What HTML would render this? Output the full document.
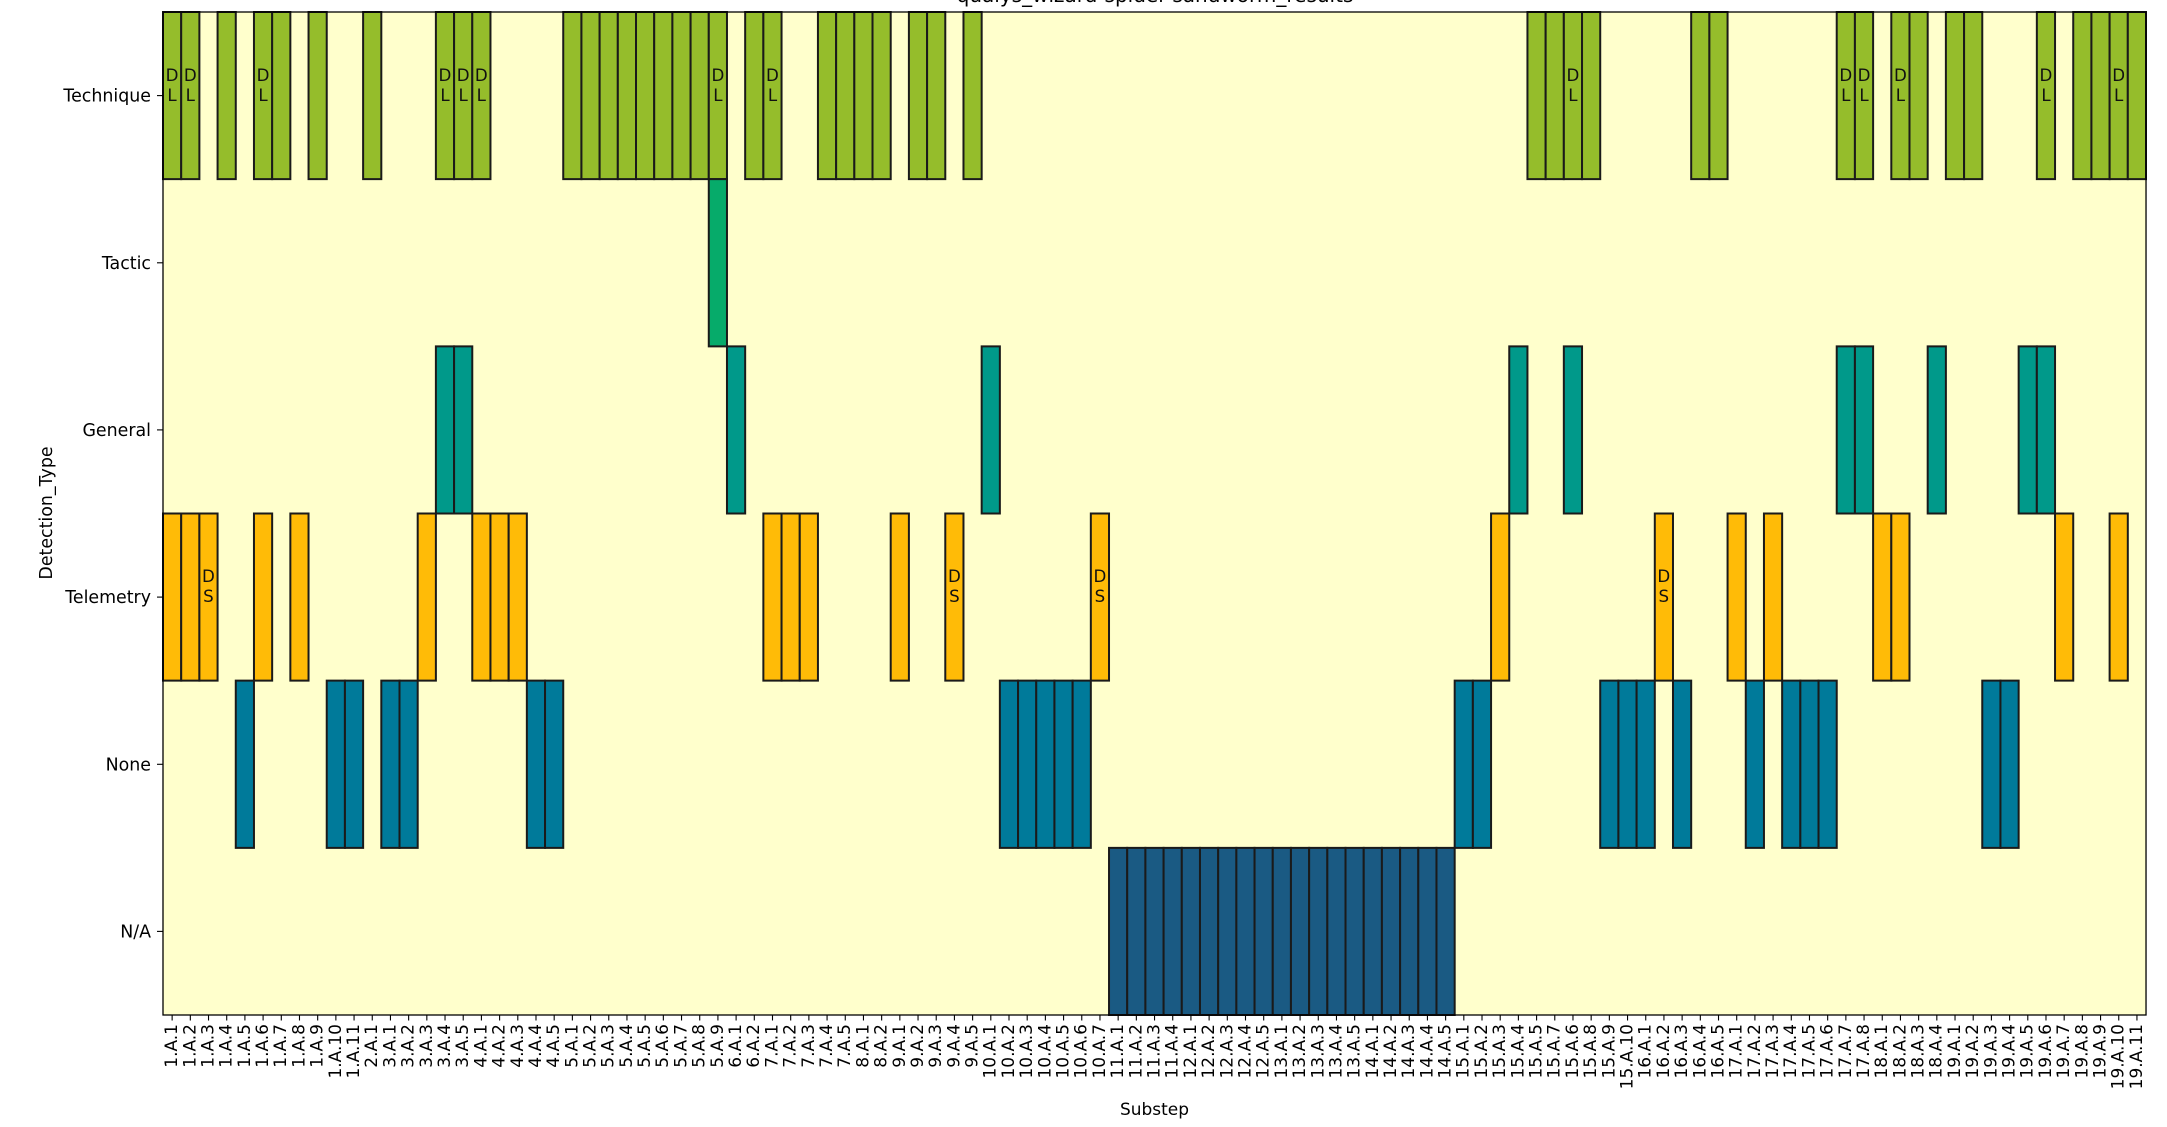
<!DOCTYPE html>
<html><head><meta charset="utf-8"><style>
html,body{margin:0;padding:0;background:#fff;}
svg{display:block;font-family:"DejaVu Sans","Liberation Sans",sans-serif;}
</style></head><body>
<svg width="2167" height="1127" viewBox="0 0 2167 1127" xmlns="http://www.w3.org/2000/svg">
<rect x="0" y="0" width="2167" height="1127" fill="#fff"/>
<text x="1155" y="2" font-size="20" text-anchor="middle" fill="#000">qualys_wizard-spider-sandworm_results</text>
<g transform="translate(163 0) scale(0.9985 1) translate(-163 0)">
<rect x="163" y="12" width="1986" height="1003" fill="#ffffcc"/>
<g transform="translate(163,12) scale(18.22,167.17)" stroke="#1a1a1a" stroke-width="2">
<g fill="#95bd2b">
<rect vector-effect="non-scaling-stroke" x="0" y="0" width="1" height="1"/>
<rect vector-effect="non-scaling-stroke" x="1" y="0" width="1" height="1"/>
<rect vector-effect="non-scaling-stroke" x="3" y="0" width="1" height="1"/>
<rect vector-effect="non-scaling-stroke" x="5" y="0" width="1" height="1"/>
<rect vector-effect="non-scaling-stroke" x="6" y="0" width="1" height="1"/>
<rect vector-effect="non-scaling-stroke" x="8" y="0" width="1" height="1"/>
<rect vector-effect="non-scaling-stroke" x="11" y="0" width="1" height="1"/>
<rect vector-effect="non-scaling-stroke" x="15" y="0" width="1" height="1"/>
<rect vector-effect="non-scaling-stroke" x="16" y="0" width="1" height="1"/>
<rect vector-effect="non-scaling-stroke" x="17" y="0" width="1" height="1"/>
<rect vector-effect="non-scaling-stroke" x="22" y="0" width="1" height="1"/>
<rect vector-effect="non-scaling-stroke" x="23" y="0" width="1" height="1"/>
<rect vector-effect="non-scaling-stroke" x="24" y="0" width="1" height="1"/>
<rect vector-effect="non-scaling-stroke" x="25" y="0" width="1" height="1"/>
<rect vector-effect="non-scaling-stroke" x="26" y="0" width="1" height="1"/>
<rect vector-effect="non-scaling-stroke" x="27" y="0" width="1" height="1"/>
<rect vector-effect="non-scaling-stroke" x="28" y="0" width="1" height="1"/>
<rect vector-effect="non-scaling-stroke" x="29" y="0" width="1" height="1"/>
<rect vector-effect="non-scaling-stroke" x="30" y="0" width="1" height="1"/>
<rect vector-effect="non-scaling-stroke" x="32" y="0" width="1" height="1"/>
<rect vector-effect="non-scaling-stroke" x="33" y="0" width="1" height="1"/>
<rect vector-effect="non-scaling-stroke" x="36" y="0" width="1" height="1"/>
<rect vector-effect="non-scaling-stroke" x="37" y="0" width="1" height="1"/>
<rect vector-effect="non-scaling-stroke" x="38" y="0" width="1" height="1"/>
<rect vector-effect="non-scaling-stroke" x="39" y="0" width="1" height="1"/>
<rect vector-effect="non-scaling-stroke" x="41" y="0" width="1" height="1"/>
<rect vector-effect="non-scaling-stroke" x="42" y="0" width="1" height="1"/>
<rect vector-effect="non-scaling-stroke" x="44" y="0" width="1" height="1"/>
<rect vector-effect="non-scaling-stroke" x="75" y="0" width="1" height="1"/>
<rect vector-effect="non-scaling-stroke" x="76" y="0" width="1" height="1"/>
<rect vector-effect="non-scaling-stroke" x="77" y="0" width="1" height="1"/>
<rect vector-effect="non-scaling-stroke" x="78" y="0" width="1" height="1"/>
<rect vector-effect="non-scaling-stroke" x="84" y="0" width="1" height="1"/>
<rect vector-effect="non-scaling-stroke" x="85" y="0" width="1" height="1"/>
<rect vector-effect="non-scaling-stroke" x="92" y="0" width="1" height="1"/>
<rect vector-effect="non-scaling-stroke" x="93" y="0" width="1" height="1"/>
<rect vector-effect="non-scaling-stroke" x="95" y="0" width="1" height="1"/>
<rect vector-effect="non-scaling-stroke" x="96" y="0" width="1" height="1"/>
<rect vector-effect="non-scaling-stroke" x="98" y="0" width="1" height="1"/>
<rect vector-effect="non-scaling-stroke" x="99" y="0" width="1" height="1"/>
<rect vector-effect="non-scaling-stroke" x="103" y="0" width="1" height="1"/>
<rect vector-effect="non-scaling-stroke" x="105" y="0" width="1" height="1"/>
<rect vector-effect="non-scaling-stroke" x="106" y="0" width="1" height="1"/>
<rect vector-effect="non-scaling-stroke" x="107" y="0" width="1" height="1"/>
<rect vector-effect="non-scaling-stroke" x="108" y="0" width="1" height="1"/>
</g>
<g fill="#06ab6a">
<rect vector-effect="non-scaling-stroke" x="30" y="1" width="1" height="1"/>
</g>
<g fill="#00998a">
<rect vector-effect="non-scaling-stroke" x="15" y="2" width="1" height="1"/>
<rect vector-effect="non-scaling-stroke" x="16" y="2" width="1" height="1"/>
<rect vector-effect="non-scaling-stroke" x="31" y="2" width="1" height="1"/>
<rect vector-effect="non-scaling-stroke" x="45" y="2" width="1" height="1"/>
<rect vector-effect="non-scaling-stroke" x="74" y="2" width="1" height="1"/>
<rect vector-effect="non-scaling-stroke" x="77" y="2" width="1" height="1"/>
<rect vector-effect="non-scaling-stroke" x="92" y="2" width="1" height="1"/>
<rect vector-effect="non-scaling-stroke" x="93" y="2" width="1" height="1"/>
<rect vector-effect="non-scaling-stroke" x="97" y="2" width="1" height="1"/>
<rect vector-effect="non-scaling-stroke" x="102" y="2" width="1" height="1"/>
<rect vector-effect="non-scaling-stroke" x="103" y="2" width="1" height="1"/>
</g>
<g fill="#ffbb07">
<rect vector-effect="non-scaling-stroke" x="0" y="3" width="1" height="1"/>
<rect vector-effect="non-scaling-stroke" x="1" y="3" width="1" height="1"/>
<rect vector-effect="non-scaling-stroke" x="2" y="3" width="1" height="1"/>
<rect vector-effect="non-scaling-stroke" x="5" y="3" width="1" height="1"/>
<rect vector-effect="non-scaling-stroke" x="7" y="3" width="1" height="1"/>
<rect vector-effect="non-scaling-stroke" x="14" y="3" width="1" height="1"/>
<rect vector-effect="non-scaling-stroke" x="17" y="3" width="1" height="1"/>
<rect vector-effect="non-scaling-stroke" x="18" y="3" width="1" height="1"/>
<rect vector-effect="non-scaling-stroke" x="19" y="3" width="1" height="1"/>
<rect vector-effect="non-scaling-stroke" x="33" y="3" width="1" height="1"/>
<rect vector-effect="non-scaling-stroke" x="34" y="3" width="1" height="1"/>
<rect vector-effect="non-scaling-stroke" x="35" y="3" width="1" height="1"/>
<rect vector-effect="non-scaling-stroke" x="40" y="3" width="1" height="1"/>
<rect vector-effect="non-scaling-stroke" x="43" y="3" width="1" height="1"/>
<rect vector-effect="non-scaling-stroke" x="51" y="3" width="1" height="1"/>
<rect vector-effect="non-scaling-stroke" x="73" y="3" width="1" height="1"/>
<rect vector-effect="non-scaling-stroke" x="82" y="3" width="1" height="1"/>
<rect vector-effect="non-scaling-stroke" x="86" y="3" width="1" height="1"/>
<rect vector-effect="non-scaling-stroke" x="88" y="3" width="1" height="1"/>
<rect vector-effect="non-scaling-stroke" x="94" y="3" width="1" height="1"/>
<rect vector-effect="non-scaling-stroke" x="95" y="3" width="1" height="1"/>
<rect vector-effect="non-scaling-stroke" x="104" y="3" width="1" height="1"/>
<rect vector-effect="non-scaling-stroke" x="107" y="3" width="1" height="1"/>
</g>
<g fill="#007a9a">
<rect vector-effect="non-scaling-stroke" x="4" y="4" width="1" height="1"/>
<rect vector-effect="non-scaling-stroke" x="9" y="4" width="1" height="1"/>
<rect vector-effect="non-scaling-stroke" x="10" y="4" width="1" height="1"/>
<rect vector-effect="non-scaling-stroke" x="12" y="4" width="1" height="1"/>
<rect vector-effect="non-scaling-stroke" x="13" y="4" width="1" height="1"/>
<rect vector-effect="non-scaling-stroke" x="20" y="4" width="1" height="1"/>
<rect vector-effect="non-scaling-stroke" x="21" y="4" width="1" height="1"/>
<rect vector-effect="non-scaling-stroke" x="46" y="4" width="1" height="1"/>
<rect vector-effect="non-scaling-stroke" x="47" y="4" width="1" height="1"/>
<rect vector-effect="non-scaling-stroke" x="48" y="4" width="1" height="1"/>
<rect vector-effect="non-scaling-stroke" x="49" y="4" width="1" height="1"/>
<rect vector-effect="non-scaling-stroke" x="50" y="4" width="1" height="1"/>
<rect vector-effect="non-scaling-stroke" x="71" y="4" width="1" height="1"/>
<rect vector-effect="non-scaling-stroke" x="72" y="4" width="1" height="1"/>
<rect vector-effect="non-scaling-stroke" x="79" y="4" width="1" height="1"/>
<rect vector-effect="non-scaling-stroke" x="80" y="4" width="1" height="1"/>
<rect vector-effect="non-scaling-stroke" x="81" y="4" width="1" height="1"/>
<rect vector-effect="non-scaling-stroke" x="83" y="4" width="1" height="1"/>
<rect vector-effect="non-scaling-stroke" x="87" y="4" width="1" height="1"/>
<rect vector-effect="non-scaling-stroke" x="89" y="4" width="1" height="1"/>
<rect vector-effect="non-scaling-stroke" x="90" y="4" width="1" height="1"/>
<rect vector-effect="non-scaling-stroke" x="91" y="4" width="1" height="1"/>
<rect vector-effect="non-scaling-stroke" x="100" y="4" width="1" height="1"/>
<rect vector-effect="non-scaling-stroke" x="101" y="4" width="1" height="1"/>
</g>
<g fill="#1a5a83">
<rect vector-effect="non-scaling-stroke" x="52" y="5" width="1" height="1"/>
<rect vector-effect="non-scaling-stroke" x="53" y="5" width="1" height="1"/>
<rect vector-effect="non-scaling-stroke" x="54" y="5" width="1" height="1"/>
<rect vector-effect="non-scaling-stroke" x="55" y="5" width="1" height="1"/>
<rect vector-effect="non-scaling-stroke" x="56" y="5" width="1" height="1"/>
<rect vector-effect="non-scaling-stroke" x="57" y="5" width="1" height="1"/>
<rect vector-effect="non-scaling-stroke" x="58" y="5" width="1" height="1"/>
<rect vector-effect="non-scaling-stroke" x="59" y="5" width="1" height="1"/>
<rect vector-effect="non-scaling-stroke" x="60" y="5" width="1" height="1"/>
<rect vector-effect="non-scaling-stroke" x="61" y="5" width="1" height="1"/>
<rect vector-effect="non-scaling-stroke" x="62" y="5" width="1" height="1"/>
<rect vector-effect="non-scaling-stroke" x="63" y="5" width="1" height="1"/>
<rect vector-effect="non-scaling-stroke" x="64" y="5" width="1" height="1"/>
<rect vector-effect="non-scaling-stroke" x="65" y="5" width="1" height="1"/>
<rect vector-effect="non-scaling-stroke" x="66" y="5" width="1" height="1"/>
<rect vector-effect="non-scaling-stroke" x="67" y="5" width="1" height="1"/>
<rect vector-effect="non-scaling-stroke" x="68" y="5" width="1" height="1"/>
<rect vector-effect="non-scaling-stroke" x="69" y="5" width="1" height="1"/>
<rect vector-effect="non-scaling-stroke" x="70" y="5" width="1" height="1"/>
</g>
</g>
<rect x="163" y="12" width="1986" height="1003" fill="none" stroke="#000" stroke-width="1.3"/>
<g font-size="16.7" text-anchor="middle" fill="#111">
<text x="172.1" y="81">D</text><text x="172.1" y="101">L</text>
<text x="190.3" y="81">D</text><text x="190.3" y="101">L</text>
<text x="263.2" y="81">D</text><text x="263.2" y="101">L</text>
<text x="445.4" y="81">D</text><text x="445.4" y="101">L</text>
<text x="463.6" y="81">D</text><text x="463.6" y="101">L</text>
<text x="481.8" y="81">D</text><text x="481.8" y="101">L</text>
<text x="718.7" y="81">D</text><text x="718.7" y="101">L</text>
<text x="773.4" y="81">D</text><text x="773.4" y="101">L</text>
<text x="1575.0" y="81">D</text><text x="1575.0" y="101">L</text>
<text x="1848.3" y="81">D</text><text x="1848.3" y="101">L</text>
<text x="1866.6" y="81">D</text><text x="1866.6" y="101">L</text>
<text x="1903.0" y="81">D</text><text x="1903.0" y="101">L</text>
<text x="2048.8" y="81">D</text><text x="2048.8" y="101">L</text>
<text x="2121.6" y="81">D</text><text x="2121.6" y="101">L</text>
<text x="208.5" y="582">D</text><text x="208.5" y="602">S</text>
<text x="955.6" y="582">D</text><text x="955.6" y="602">S</text>
<text x="1101.3" y="582">D</text><text x="1101.3" y="602">S</text>
<text x="1666.1" y="582">D</text><text x="1666.1" y="602">S</text>
</g>
<line x1="171.6" y1="1017.5" x2="2150" y2="1017.5" stroke="#000" stroke-width="6" stroke-dasharray="1.1 17.12"/>
<text x="1156" y="1115" font-size="17" text-anchor="middle" fill="#000">Substep</text>
<g font-size="17" text-anchor="end" fill="#000">
<text transform="translate(177.1,1024) rotate(-90)">1.A.1</text>
<text transform="translate(195.3,1024) rotate(-90)">1.A.2</text>
<text transform="translate(213.5,1024) rotate(-90)">1.A.3</text>
<text transform="translate(231.8,1024) rotate(-90)">1.A.4</text>
<text transform="translate(250.0,1024) rotate(-90)">1.A.5</text>
<text transform="translate(268.2,1024) rotate(-90)">1.A.6</text>
<text transform="translate(286.4,1024) rotate(-90)">1.A.7</text>
<text transform="translate(304.6,1024) rotate(-90)">1.A.8</text>
<text transform="translate(322.9,1024) rotate(-90)">1.A.9</text>
<text transform="translate(341.1,1024) rotate(-90)">1.A.10</text>
<text transform="translate(359.3,1024) rotate(-90)">1.A.11</text>
<text transform="translate(377.5,1024) rotate(-90)">2.A.1</text>
<text transform="translate(395.7,1024) rotate(-90)">3.A.1</text>
<text transform="translate(414.0,1024) rotate(-90)">3.A.2</text>
<text transform="translate(432.2,1024) rotate(-90)">3.A.3</text>
<text transform="translate(450.4,1024) rotate(-90)">3.A.4</text>
<text transform="translate(468.6,1024) rotate(-90)">3.A.5</text>
<text transform="translate(486.8,1024) rotate(-90)">4.A.1</text>
<text transform="translate(505.1,1024) rotate(-90)">4.A.2</text>
<text transform="translate(523.3,1024) rotate(-90)">4.A.3</text>
<text transform="translate(541.5,1024) rotate(-90)">4.A.4</text>
<text transform="translate(559.7,1024) rotate(-90)">4.A.5</text>
<text transform="translate(577.9,1024) rotate(-90)">5.A.1</text>
<text transform="translate(596.2,1024) rotate(-90)">5.A.2</text>
<text transform="translate(614.4,1024) rotate(-90)">5.A.3</text>
<text transform="translate(632.6,1024) rotate(-90)">5.A.4</text>
<text transform="translate(650.8,1024) rotate(-90)">5.A.5</text>
<text transform="translate(669.0,1024) rotate(-90)">5.A.6</text>
<text transform="translate(687.3,1024) rotate(-90)">5.A.7</text>
<text transform="translate(705.5,1024) rotate(-90)">5.A.8</text>
<text transform="translate(723.7,1024) rotate(-90)">5.A.9</text>
<text transform="translate(741.9,1024) rotate(-90)">6.A.1</text>
<text transform="translate(760.1,1024) rotate(-90)">6.A.2</text>
<text transform="translate(778.4,1024) rotate(-90)">7.A.1</text>
<text transform="translate(796.6,1024) rotate(-90)">7.A.2</text>
<text transform="translate(814.8,1024) rotate(-90)">7.A.3</text>
<text transform="translate(833.0,1024) rotate(-90)">7.A.4</text>
<text transform="translate(851.2,1024) rotate(-90)">7.A.5</text>
<text transform="translate(869.5,1024) rotate(-90)">8.A.1</text>
<text transform="translate(887.7,1024) rotate(-90)">8.A.2</text>
<text transform="translate(905.9,1024) rotate(-90)">9.A.1</text>
<text transform="translate(924.1,1024) rotate(-90)">9.A.2</text>
<text transform="translate(942.3,1024) rotate(-90)">9.A.3</text>
<text transform="translate(960.6,1024) rotate(-90)">9.A.4</text>
<text transform="translate(978.8,1024) rotate(-90)">9.A.5</text>
<text transform="translate(997.0,1024) rotate(-90)">10.A.1</text>
<text transform="translate(1015.2,1024) rotate(-90)">10.A.2</text>
<text transform="translate(1033.4,1024) rotate(-90)">10.A.3</text>
<text transform="translate(1051.7,1024) rotate(-90)">10.A.4</text>
<text transform="translate(1069.9,1024) rotate(-90)">10.A.5</text>
<text transform="translate(1088.1,1024) rotate(-90)">10.A.6</text>
<text transform="translate(1106.3,1024) rotate(-90)">10.A.7</text>
<text transform="translate(1124.5,1024) rotate(-90)">11.A.1</text>
<text transform="translate(1142.8,1024) rotate(-90)">11.A.2</text>
<text transform="translate(1161.0,1024) rotate(-90)">11.A.3</text>
<text transform="translate(1179.2,1024) rotate(-90)">11.A.4</text>
<text transform="translate(1197.4,1024) rotate(-90)">12.A.1</text>
<text transform="translate(1215.6,1024) rotate(-90)">12.A.2</text>
<text transform="translate(1233.9,1024) rotate(-90)">12.A.3</text>
<text transform="translate(1252.1,1024) rotate(-90)">12.A.4</text>
<text transform="translate(1270.3,1024) rotate(-90)">12.A.5</text>
<text transform="translate(1288.5,1024) rotate(-90)">13.A.1</text>
<text transform="translate(1306.7,1024) rotate(-90)">13.A.2</text>
<text transform="translate(1325.0,1024) rotate(-90)">13.A.3</text>
<text transform="translate(1343.2,1024) rotate(-90)">13.A.4</text>
<text transform="translate(1361.4,1024) rotate(-90)">13.A.5</text>
<text transform="translate(1379.6,1024) rotate(-90)">14.A.1</text>
<text transform="translate(1397.8,1024) rotate(-90)">14.A.2</text>
<text transform="translate(1416.1,1024) rotate(-90)">14.A.3</text>
<text transform="translate(1434.3,1024) rotate(-90)">14.A.4</text>
<text transform="translate(1452.5,1024) rotate(-90)">14.A.5</text>
<text transform="translate(1470.7,1024) rotate(-90)">15.A.1</text>
<text transform="translate(1488.9,1024) rotate(-90)">15.A.2</text>
<text transform="translate(1507.2,1024) rotate(-90)">15.A.3</text>
<text transform="translate(1525.4,1024) rotate(-90)">15.A.4</text>
<text transform="translate(1543.6,1024) rotate(-90)">15.A.5</text>
<text transform="translate(1561.8,1024) rotate(-90)">15.A.7</text>
<text transform="translate(1580.0,1024) rotate(-90)">15.A.6</text>
<text transform="translate(1598.3,1024) rotate(-90)">15.A.8</text>
<text transform="translate(1616.5,1024) rotate(-90)">15.A.9</text>
<text transform="translate(1634.7,1024) rotate(-90)">15.A.10</text>
<text transform="translate(1652.9,1024) rotate(-90)">16.A.1</text>
<text transform="translate(1671.1,1024) rotate(-90)">16.A.2</text>
<text transform="translate(1689.4,1024) rotate(-90)">16.A.3</text>
<text transform="translate(1707.6,1024) rotate(-90)">16.A.4</text>
<text transform="translate(1725.8,1024) rotate(-90)">16.A.5</text>
<text transform="translate(1744.0,1024) rotate(-90)">17.A.1</text>
<text transform="translate(1762.2,1024) rotate(-90)">17.A.2</text>
<text transform="translate(1780.5,1024) rotate(-90)">17.A.3</text>
<text transform="translate(1798.7,1024) rotate(-90)">17.A.4</text>
<text transform="translate(1816.9,1024) rotate(-90)">17.A.5</text>
<text transform="translate(1835.1,1024) rotate(-90)">17.A.6</text>
<text transform="translate(1853.3,1024) rotate(-90)">17.A.7</text>
<text transform="translate(1871.6,1024) rotate(-90)">17.A.8</text>
<text transform="translate(1889.8,1024) rotate(-90)">18.A.1</text>
<text transform="translate(1908.0,1024) rotate(-90)">18.A.2</text>
<text transform="translate(1926.2,1024) rotate(-90)">18.A.3</text>
<text transform="translate(1944.4,1024) rotate(-90)">18.A.4</text>
<text transform="translate(1962.7,1024) rotate(-90)">19.A.1</text>
<text transform="translate(1980.9,1024) rotate(-90)">19.A.2</text>
<text transform="translate(1999.1,1024) rotate(-90)">19.A.3</text>
<text transform="translate(2017.3,1024) rotate(-90)">19.A.4</text>
<text transform="translate(2035.5,1024) rotate(-90)">19.A.5</text>
<text transform="translate(2053.8,1024) rotate(-90)">19.A.6</text>
<text transform="translate(2072.0,1024) rotate(-90)">19.A.7</text>
<text transform="translate(2090.2,1024) rotate(-90)">19.A.8</text>
<text transform="translate(2108.4,1024) rotate(-90)">19.A.9</text>
<text transform="translate(2126.6,1024) rotate(-90)">19.A.10</text>
<text transform="translate(2144.9,1024) rotate(-90)">19.A.11</text>
</g>
</g>
<g stroke="#000" stroke-width="1.1">
<line x1="157" y1="95.6" x2="163" y2="95.6"/>
<line x1="157" y1="262.8" x2="163" y2="262.8"/>
<line x1="157" y1="429.9" x2="163" y2="429.9"/>
<line x1="157" y1="597.1" x2="163" y2="597.1"/>
<line x1="157" y1="764.3" x2="163" y2="764.3"/>
<line x1="157" y1="931.4" x2="163" y2="931.4"/>
</g>
<g font-size="17.4" text-anchor="end" fill="#000">
<text x="151" y="101.6">Technique</text>
<text x="151" y="268.8">Tactic</text>
<text x="151" y="435.9">General</text>
<text x="151" y="603.1">Telemetry</text>
<text x="151" y="770.3">None</text>
<text x="151" y="937.4">N/A</text>
</g>
<text transform="translate(52,513) rotate(-90)" font-size="17.4" text-anchor="middle" fill="#000">Detection_Type</text>
</svg>
</body></html>
